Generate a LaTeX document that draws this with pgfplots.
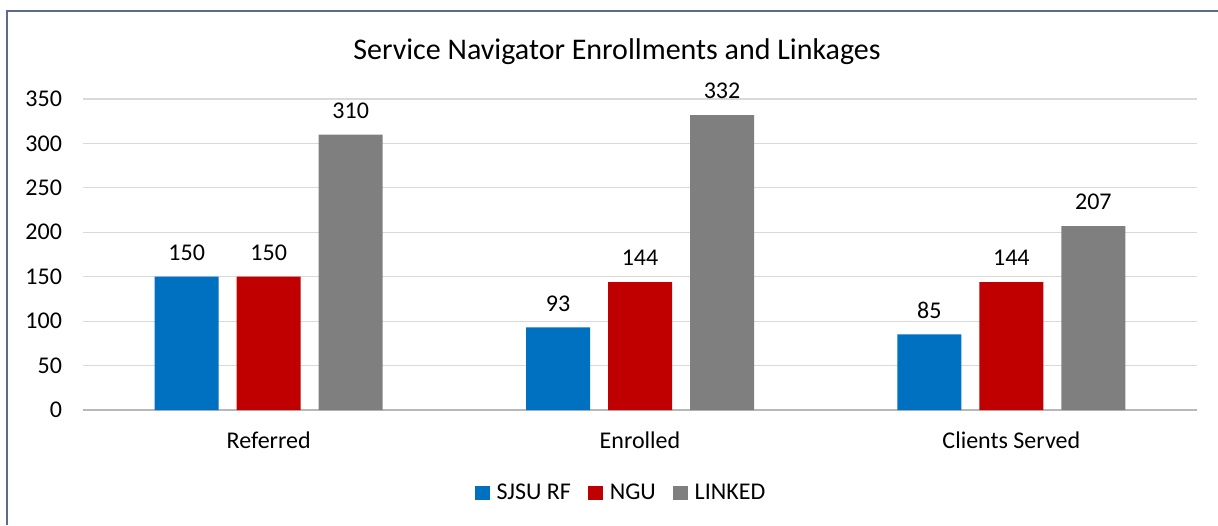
\documentclass[border=0pt]{standalone}
\usepackage{pgfplots}
\pgfplotsset{compat=1.18}
\usepackage{fontspec}
\setmainfont{Carlito}
\definecolor{cblue}{HTML}{0070C0}
\definecolor{cred}{HTML}{C00000}
\definecolor{cgray}{HTML}{7F7F7F}
\definecolor{cgrid}{HTML}{D9D9D9}
\definecolor{cframe}{HTML}{5A6C8C}
\begin{document}
\begin{tikzpicture}
\path[use as bounding box] (-41.5pt,-57.5pt) rectangle (567.5pt,205pt);
\draw[cframe, line width=1pt] (-38pt,-57.5pt) -- (-38pt,199.5pt) -- (567.5pt,199.5pt);
\begin{axis}[
  at={(0,0)}, anchor=south west,
  scale only axis, width=557pt, height=155.5pt,
  xmin=-0.5, xmax=2.5, ymin=0, ymax=350,
  ytick={50,100,...,350},
  extra y ticks={0},
  extra y tick style={grid style={cgrid!85!black, line width=0.9pt}},
  xtick={0,1,2}, xticklabels={Referred,Enrolled,Clients Served},
  ymajorgrids, grid style={cgrid, line width=0.6pt},
  axis line style={draw=none},
  ytick style={draw=none}, xtick style={draw=none},
  yticklabel style={font=\fontsize{12}{14}\selectfont, anchor=east, xshift=-7pt},
  xticklabel style={font=\fontsize{12}{14}\selectfont, yshift=-3pt},
  /pgf/number format/assume math mode=true,
  ybar, bar width=32pt,
  nodes near coords,
  every node near coord/.append style={font=\fontsize{12}{14}\selectfont, text=black, yshift=4.5pt},
  legend style={at={(269.5pt,-41.5pt)}, anchor=center, draw=none, legend columns=3,
    font=\fontsize{12}{14}\selectfont,
    /tikz/every odd column/.append style={column sep=1.5pt},
    /tikz/every even column/.append style={column sep=6.5pt}},
  legend image code/.code={\fill[#1] (0pt,-3.7pt) rectangle (7.4pt,3.7pt);},
  clip=false,
]
\addplot[fill=cblue, draw=none, bar shift=-41pt] coordinates {(0,150) (1,93) (2,85)};
\addplot[fill=cred, draw=none, bar shift=0pt] coordinates {(0,150) (1,144) (2,144)};
\addplot[fill=cgray, draw=none, bar shift=41pt] coordinates {(0,310) (1,332) (2,207)};
\legend{SJSU RF, NGU, LINKED}
\end{axis}
\node[font=\fontsize{15}{18}\selectfont] at (267pt,179pt) {Service Navigator Enrollments and Linkages};
\end{tikzpicture}
\end{document}
